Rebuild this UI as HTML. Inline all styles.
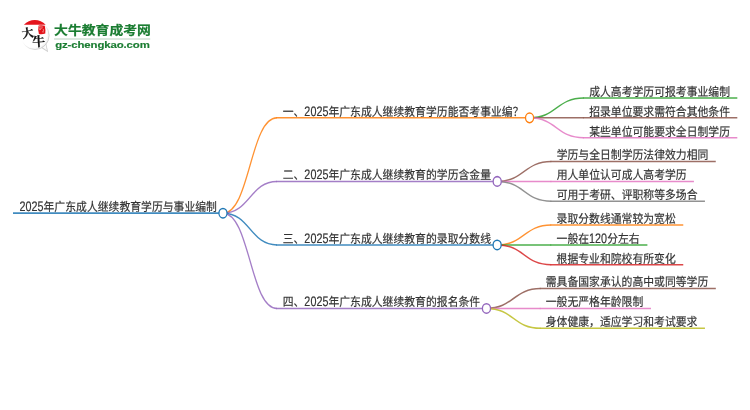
<!DOCTYPE html>
<html lang="zh-CN">
<head>
<meta charset="utf-8">
<title>2025年广东成人继续教育学历与事业编制</title>
<style>
html,body{margin:0;padding:0;background:#fff;}
body{width:750px;height:410px;overflow:hidden;position:relative;font-family:"Liberation Sans","Noto Sans CJK SC",sans-serif;}
svg{position:absolute;left:0;top:0;display:block;will-change:transform;}
.map text{font-family:"Liberation Sans","Noto Sans CJK SC",sans-serif;font-size:16px;fill:#333;letter-spacing:0.04px;text-rendering:geometricPrecision;stroke:#333;stroke-width:0.24px;}
.map path{fill:none;stroke-opacity:0.85;}
</style>
</head>
<body>
<svg width="750" height="410" viewBox="0 0 750 410">
<rect width="750" height="410" fill="#fff"/>
<g class="map" transform="matrix(0.6756,0,0,0.794,13,213.15)">
<g class="links">
<path d="M310.8,0C350.8,0 350.8,-120 390.8,-120" stroke="#ff7f0e" stroke-width="1.9"/>
<path d="M764.6,-120C804.6,-120 804.6,-145 844.6,-145" stroke="#2ca02c" stroke-width="1.9"/>
<path d="M764.6,-120C804.6,-120 804.6,-120 844.6,-120" stroke="#8c564b" stroke-width="1.9"/>
<path d="M764.6,-120C804.6,-120 804.6,-95 844.6,-95" stroke="#e377c2" stroke-width="1.9"/>
<path d="M310.8,0C350.8,0 350.8,-40 390.8,-40" stroke="#9467bd" stroke-width="1.9"/>
<path d="M716.7,-40C756.7,-40 756.7,-65 796.7,-65" stroke="#8c564b" stroke-width="1.9"/>
<path d="M716.7,-40C756.7,-40 756.7,-40 796.7,-40" stroke="#e377c2" stroke-width="1.9"/>
<path d="M716.7,-40C756.7,-40 756.7,-15 796.7,-15" stroke="#7f7f7f" stroke-width="1.9"/>
<path d="M310.8,0C350.8,0 350.8,40 390.8,40" stroke="#1f77b4" stroke-width="1.9"/>
<path d="M716.6,40C756.6,40 756.6,15 796.6,15" stroke="#ff7f0e" stroke-width="1.9"/>
<path d="M716.6,40C756.6,40 756.6,40 796.6,40" stroke="#2ca02c" stroke-width="1.9"/>
<path d="M716.6,40C756.6,40 756.6,65 796.6,65" stroke="#d62728" stroke-width="1.9"/>
<path d="M310.8,0C350.8,0 350.8,120 390.8,120" stroke="#9467bd" stroke-width="1.9"/>
<path d="M700.8,120C740.8,120 740.8,95 780.8,95" stroke="#8c564b" stroke-width="1.9"/>
<path d="M700.8,120C740.8,120 740.8,120 780.8,120" stroke="#e377c2" stroke-width="1.9"/>
<path d="M700.8,120C740.8,120 740.8,145 780.8,145" stroke="#bcbd22" stroke-width="1.9"/>
</g>
<g class="lines">
<path d="M0,0H310.8" stroke="#1f77b4" stroke-width="2.3"/>
<path d="M389.8,-120H764.6" stroke="#ff7f0e" stroke-width="1.9"/>
<path d="M843.6,-145H1072.1" stroke="#2ca02c" stroke-width="1.9"/>
<path d="M843.6,-120H1072.1" stroke="#8c564b" stroke-width="1.9"/>
<path d="M843.6,-95H1072.1" stroke="#e377c2" stroke-width="1.9"/>
<path d="M389.8,-40H716.7" stroke="#9467bd" stroke-width="1.9"/>
<path d="M795.7,-65H1040.2" stroke="#8c564b" stroke-width="1.9"/>
<path d="M795.7,-40H1007.9" stroke="#e377c2" stroke-width="1.9"/>
<path d="M795.7,-15H1024.2" stroke="#7f7f7f" stroke-width="1.9"/>
<path d="M389.8,40H716.6" stroke="#1f77b4" stroke-width="1.9"/>
<path d="M795.6,15H992.1" stroke="#ff7f0e" stroke-width="1.9"/>
<path d="M795.6,40H939" stroke="#2ca02c" stroke-width="1.9"/>
<path d="M795.6,65H992.1" stroke="#d62728" stroke-width="1.9"/>
<path d="M389.8,120H700.8" stroke="#9467bd" stroke-width="1.9"/>
<path d="M779.8,95H1040.3" stroke="#8c564b" stroke-width="1.9"/>
<path d="M779.8,120H944.3" stroke="#e377c2" stroke-width="1.9"/>
<path d="M779.8,145H1024.2" stroke="#bcbd22" stroke-width="1.9"/>
</g>
<g class="circles">
<circle cx="764.6" cy="-120" r="6" stroke="#ff7f0e" stroke-width="1.9" fill="#fff"/>
<circle cx="716.7" cy="-40" r="6" stroke="#9467bd" stroke-width="1.9" fill="#fff"/>
<circle cx="716.6" cy="40" r="6" stroke="#1f77b4" stroke-width="1.9" fill="#fff"/>
<circle cx="700.8" cy="120" r="6" stroke="#9467bd" stroke-width="1.9" fill="#fff"/>
<circle cx="310.8" cy="0" r="6" stroke="#1f77b4" stroke-width="1.9" fill="#fff"/>
</g>
</g>
<g class="map labels" transform="matrix(0.6756,0,0,0.7543,13,213.15)">
<text x="9.6" y="-2.79"><tspan font-size="18.24" textLength="35.6" lengthAdjust="spacingAndGlyphs">2025</tspan>年广东成人继续教育学历与事业编制</text>
<text x="399.2" y="-129.11">一、<tspan font-size="18.24" textLength="35.6" lengthAdjust="spacingAndGlyphs">2025</tspan>年广东成人继续教育学历能否考事业编？</text>
<text x="852.8" y="-155.42">成人高考学历可报考事业编制</text>
<text x="852.8" y="-129.11">招录单位要求需符合其他条件</text>
<text x="852.8" y="-102.79">某些单位可能要求全日制学历</text>
<text x="399.2" y="-44.89">二、<tspan font-size="18.24" textLength="35.6" lengthAdjust="spacingAndGlyphs">2025</tspan>年广东成人继续教育的学历含金量</text>
<text x="804.7" y="-71.21">学历与全日制学历法律效力相同</text>
<text x="804.7" y="-44.89">用人单位认可成人高考学历</text>
<text x="804.7" y="-18.58">可用于考研、评职称等多场合</text>
<text x="399.2" y="39.32">三、<tspan font-size="18.24" textLength="35.6" lengthAdjust="spacingAndGlyphs">2025</tspan>年广东成人继续教育的录取分数线</text>
<text x="804.6" y="13">录取分数线通常较为宽松</text>
<text x="804.6" y="39.32">一般在<tspan font-size="18.24" textLength="26.7" lengthAdjust="spacingAndGlyphs">120</tspan>分左右</text>
<text x="804.6" y="65.63">根据专业和院校有所变化</text>
<text x="399.2" y="123.53">四、<tspan font-size="18.24" textLength="35.6" lengthAdjust="spacingAndGlyphs">2025</tspan>年广东成人继续教育的报名条件</text>
<text x="788.5" y="97.21">需具备国家承认的高中或同等学历</text>
<text x="788.5" y="123.53">一般无严格年龄限制</text>
<text x="788.5" y="149.84">身体健康，适应学习和考试要求</text>
</g>
<g class="logo">
<defs>
<radialGradient id="bub" cx="0.42" cy="0.42" r="0.62">
<stop offset="0.8" stop-color="#fff"/>
<stop offset="0.94" stop-color="#f3f3f3"/>
<stop offset="1" stop-color="#d6d6d6"/>
</radialGradient>
<linearGradient id="rim" x1="0" y1="0" x2="1" y2="1">
<stop offset="0.35" stop-color="#e9e9e9" stop-opacity="0"/>
<stop offset="0.7" stop-color="#c9c9c9"/>
<stop offset="1" stop-color="#bdbdbd"/>
</linearGradient>
</defs>
<path d="M41.4,47.9 L48.1,52.3 L46.3,43.8 Z" fill="#cdcdcd"/>
<path d="M42.4,47.3 L46.9,50.6 L45.7,44.4 Z" fill="#fbfbfb"/>
<circle cx="35" cy="35.4" r="14.1" fill="url(#bub)" stroke="url(#rim)" stroke-width="0.7"/>
<path d="M23.9,24.7 A15.2,15.2 0 0 1 45.7,24.7 Z" fill="#e5141c"/>
<path d="M38.6,25.6 Q41.8,25 44.8,25.8 Q45.7,30 45.3,33.4 Q42,34.6 38.9,33.9 Q37.7,30 38.6,25.6 Z" fill="#e3121a"/>
<path d="M39.3,26.5 l1.5,0.4 M39.1,28.1 l2.2,0.3 M41.9,26.3 l0.2,1.6 M39.5,29.6 l1.1,-0.1 M43.3,29.4 l0.2,1.4 M42.4,31.8 l1.2,0.1" stroke="#f3a8a4" stroke-width="0.7" fill="none" stroke-linecap="round"/>
<text x="21.8" y="37.4" transform="rotate(-9 27.5 33)" style="font-family:'Liberation Serif','Noto Serif CJK SC',serif;font-weight:700;font-size:12px;fill:#111;stroke:#111;stroke-width:0.2px">大</text>
<text x="32.3" y="46.3" transform="rotate(-3 37 41)" style="font-family:'Liberation Serif','Noto Serif CJK SC',serif;font-weight:700;font-size:13px;fill:#111;stroke:#111;stroke-width:0.2px">牛</text>
<g transform="translate(54.1,34.5) scale(1,0.9)">
<text x="0" y="0" style="font-family:'Liberation Sans','Noto Sans CJK SC',sans-serif;font-weight:bold;font-size:13.85px;fill:#1b7d32;stroke:#1b7d32;stroke-width:0.25px">大牛教育成考网</text>
</g>
<path d="M54,39H150.2" stroke="#dce8df" stroke-width="1.8" fill="none"/>
<g transform="translate(55.2,47.8) scale(1,0.84)">
<text x="0" y="0" textLength="94.6" lengthAdjust="spacing" style="font-family:'Liberation Sans','Noto Sans CJK SC',sans-serif;font-weight:bold;font-size:11.4px;fill:#1b7d32;stroke:#1b7d32;stroke-width:0.2px">gz-chengkao.com</text>
</g>
</g>

</svg>
</body>
</html>
